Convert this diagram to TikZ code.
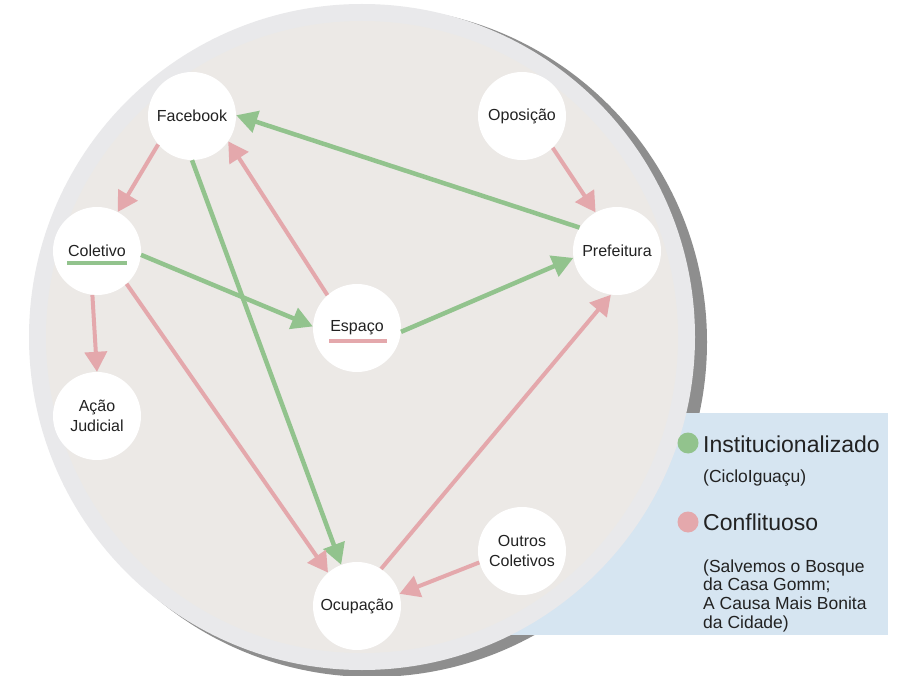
\documentclass[tikz,border=0pt]{standalone}
\usepackage{fontspec}
\setmainfont{Liberation Sans}
\usetikzlibrary{arrows.meta}
\definecolor{bggray}{RGB}{236,233,230}
\definecolor{rimgray}{RGB}{233,233,235}
\definecolor{shadowgray}{RGB}{142,142,142}
\definecolor{legblue}{RGB}{214,229,241}
\definecolor{grn}{RGB}{146,195,141}
\definecolor{pnk}{RGB}{228,168,172}
\definecolor{txt}{RGB}{34,34,34}
\begin{document}
\begin{tikzpicture}[x=1pt,y=-1pt,
  actor/.style={circle,fill=white,minimum size=88pt,inner sep=0pt,align=center,
    font=\fontsize{16}{20}\selectfont,text=txt},
  lbl/.style={inner sep=0pt,font=\fontsize{16}{20}\selectfont,text=txt},
  garrow/.style={draw=grn,line width=4.5pt,-{Triangle[length=21pt,width=22pt]}},
  parrow/.style={draw=pnk,line width=4pt,-{Triangle[length=20pt,width=22pt]}},
  legtitle/.style={anchor=base west,font=\fontsize{23}{27}\selectfont,text=txt,inner sep=0pt},
  legsub/.style={anchor=north west,font=\fontsize{17.5}{18.7}\selectfont,text=txt,inner sep=0pt,align=left},
]
\useasboundingbox (0,0) rectangle (897,676);
\fill[white] (0,0) rectangle (897,676);
% shadow, legend box, main disc
\fill[shadowgray] (372,342) circle (335);
\fill[legblue] (500,413) rectangle (888,635);
\fill[rimgray] (362,337) circle (333);
\fill[bggray] (362,337) circle (316);

% actors
\node[actor] (fb)   at (192,116) {Facebook};
\node[actor] (col)  at (97,251)  {};
\node[actor] (op)   at (522,116) {Oposição};
\node[actor] (pref) at (617,251) {Prefeitura};
\node[actor] (esp)  at (357,328) {};
\node[actor] (acao) at (97,416)  {Ação\\Judicial};
\node[actor] (ocu)  at (357,606) {Ocupação};
\node[actor] (out)  at (522,551) {Outros\\Coletivos};

\node[lbl] (coltxt) at (97,251) {Coletivo};
\draw[grn,line width=4pt] (67,263) -- (127,263);
\node[lbl] (esptxt) at (357,328) {Espaço};
\draw[pnk,line width=3.5pt] (329,341) -- (387,341);

% connectors
\draw[parrow] (fb.220) -- (col.62);
\draw[garrow] (pref.148) -- (fb.1);
\draw[parrow] (esp.132) -- (fb.325);
\draw[garrow] (fb.270) -- (ocu.111);
\draw[garrow] (col.355) -- (esp.178);
\draw[garrow] (esp.355) -- (pref.189);
\draw[parrow] (op.314) -- (pref.119);
\draw[parrow] (col.264) -- (acao.90);
\draw[parrow] (col.312) -- (ocu.131);
\draw[parrow] (ocu.57) -- (pref.262);
\draw[parrow] (out.195) -- (ocu.16);

% legend
\fill[grn] (688,443) circle (10.5);
\node[legtitle] (inst) at (703,452) {Institucionalizado};
\node[legsub] (ciclo) at (703,469.3) {(CicloIguaçu)};
\fill[pnk] (688,522) circle (10.5);
\node[legtitle] (conf) at (703,530) {Conflituoso};
\node[legsub] (salv) at (703,559.3) {(Salvemos o Bosque\\da Casa Gomm;\\A Causa Mais Bonita\\da Cidade)};
\end{tikzpicture}
\end{document}
